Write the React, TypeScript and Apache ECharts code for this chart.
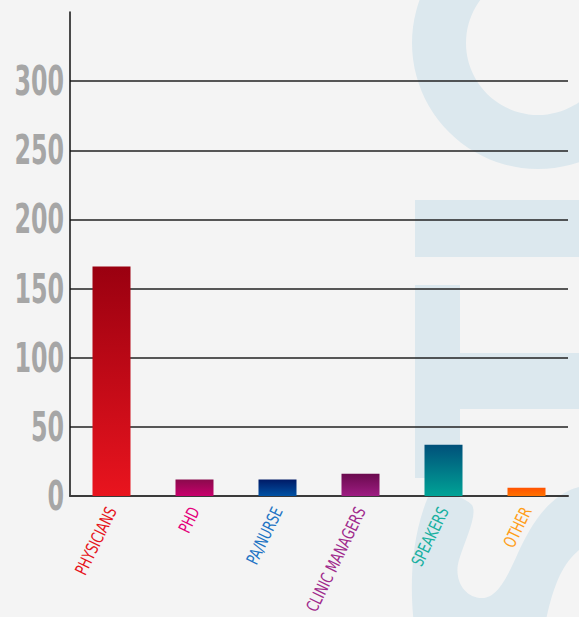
import React, { useEffect, useRef } from "react";
import * as echarts from "echarts";

const categories = ["PHYSICIANS", "PHD", "PA/NURSE", "CLINIC MANAGERS", "SPEAKERS", "OTHER"];
const values = [166, 12, 12, 16, 37, 6];
const barTopColors = ["#9a0010", "#8a0a4c", "#001a66", "#6a0a4e", "#00507a", "#ff5200"];
const barBottomColors = ["#e9141e", "#c8006c", "#0052a4", "#9e1c82", "#00a396", "#ff7200"];
const labelColors = ["#e6141c", "#e4007c", "#1f74c4", "#a02a8c", "#18b0a0", "#ff9e1a"];
const yMin = 0;
const yMax = 350;
const yInterval = 50;

const S_PATH =
  "M 428 497 C 440 492 462 494 472 505 C 478 515 465 540 459 560 C 453 580 465 598 482 598 " +
  "C 498 598 508 575 518 553 C 530 527 548 495 579 487 L 600 485 L 600 540 " +
  "C 585 542 570 555 560 575 C 552 592 548 610 545 625 L 414 625 C 410 590 410 540 428 497 Z";

let registered = false;
function ensureShape() {
  if (registered) return;
  registered = true;
  echarts.graphic.registerShape("logoS", echarts.graphic.extendPath(S_PATH, {}));
}

// Narrow the rendered texts horizontally (the reference uses a condensed face).
function condense(root: HTMLElement | null) {
  if (!root) return;
  root.querySelectorAll("text").forEach((t) => {
    const el = t as SVGTextElement;
    if (el.getAttribute("data-cond")) return;
    const s = (el.textContent || "").trim();
    let k = 0;
    if (/^\d+$/.test(s)) k = 0.58;
    else if (categories.indexOf(s) >= 0) k = 0.72;
    if (!k) return;
    const tr = el.getAttribute("transform") || "";
    el.setAttribute("transform", tr + ` scale(${k},1)`);
    el.setAttribute("data-cond", "1");
  });
}

export default function App() {
  const ref = useRef<HTMLDivElement>(null);
  useEffect(() => {
    if (!ref.current) return;
    ensureShape();
    const chart = echarts.init(ref.current, undefined, { renderer: "svg" });
    const wm = "#dce8ee";
    chart.setOption({
      animation: false,
      backgroundColor: "#f4f4f4",
      graphic: [
        { type: "ring", z: -10, silent: true, shape: { cx: 538, cy: 43, r: 126, r0: 72 }, style: { fill: wm } },
        { type: "rect", z: -10, silent: true, shape: { x: 415, y: 200, width: 170, height: 57 }, style: { fill: wm } },
        { type: "rect", z: -10, silent: true, shape: { x: 415, y: 285, width: 45, height: 193 }, style: { fill: wm } },
        { type: "rect", z: -10, silent: true, shape: { x: 460, y: 353, width: 125, height: 56 }, style: { fill: wm } },
        { type: "logoS", z: -10, silent: true, x: 0, y: 0, style: { fill: wm } },
      ],
      grid: { left: 70, right: 11, top: 12, bottom: 121, outerBoundsMode: "none" },
      xAxis: {
        type: "category",
        data: categories,
        axisTick: { show: false },
        axisLine: { lineStyle: { color: "#3a3a3a", width: 2 } },
        axisLabel: {
          rotate: 64,
          margin: 12,
          fontSize: 17,
          fontFamily: '"DejaVu Sans", sans-serif',
          color: (_v: any, i: number) => labelColors[i],
          interval: 0,
        },
      },
      yAxis: {
        type: "value",
        min: yMin,
        max: yMax,
        interval: yInterval,
        axisLine: { show: true, lineStyle: { color: "#111", width: 1.5 } },
        axisTick: { show: false },
        splitLine: { showMaxLine: false, lineStyle: { color: "#222", width: 1.6 } },
        axisLabel: {
          margin: 6,
          fontSize: 41,
          fontWeight: "bold",
          color: "#a6a6a6",
          fontFamily: '"DejaVu Sans", sans-serif',
          formatter: (v: number) => (v > 300 ? "" : String(v)),
        },
      },
      series: [
        {
          type: "bar",
          barWidth: 38,
          data: values.map((v, i) => ({
            value: v,
            itemStyle: {
              color: {
                type: "linear",
                x: 0,
                y: 0,
                x2: 0,
                y2: 1,
                colorStops: [
                  { offset: 0, color: barTopColors[i] },
                  { offset: 1, color: barBottomColors[i] },
                ],
              },
            },
          })),
        },
      ],
    });
    const el = ref.current;
    condense(el);
    chart.on("finished", () => condense(el));
    const timer = setTimeout(() => condense(el), 50);
    return () => {
      clearTimeout(timer);
      chart.dispose();
    };
  }, []);
  return (
    <div
      ref={ref}
      style={{ position: "fixed", left: 0, top: 0, width: 579, height: 617 }}
    />
  );
}
